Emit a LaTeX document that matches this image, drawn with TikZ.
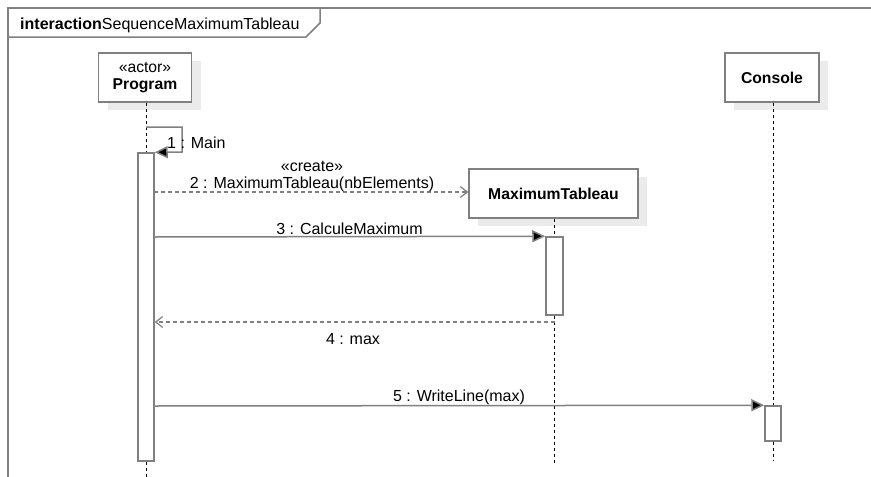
\documentclass[tikz,border=0pt]{standalone}
\usepackage{fontspec}
\setmainfont{Liberation Sans}
\usetikzlibrary{arrows.meta,shadows}
\definecolor{linegray}{HTML}{808080}
\definecolor{shadowgray}{HTML}{EBEBEB}
\begin{document}
\begin{tikzpicture}[x=1pt,y=-1pt,
  font=\fontsize{16}{17}\selectfont,
  obj/.style={draw=linegray, line width=1.5pt, fill=white, minimum height=49pt, inner sep=0pt, align=center,
    font=\fontsize{15.7}{17}\selectfont,
    general shadow={fill=shadowgray, shadow xshift=9pt, shadow yshift=-8pt}},
  act/.style={draw=linegray, line width=1.5pt, fill=white, inner sep=0pt, minimum width=16pt},
  life/.style={draw=black, line width=1pt, dash pattern=on 3pt off 3pt},
  msg/.style={draw=linegray, line width=1.5pt, -{Triangle[length=13pt,width=12pt,fill=black]}},
  ret/.style={draw=linegray, line width=1.2pt, dash pattern=on 4pt off 3pt, -{Straight Barb[length=7pt,width=11pt,line width=1.2pt]}},
  lbl/.style={inner sep=0pt, text=black}
]
\useasboundingbox (0,0) rectangle (871,477);
% frame
\draw[draw=linegray, line width=1.5pt] (8,477) -- (8,8) -- (871,8);
\draw[draw=linegray, line width=1.5pt] (8,37) -- (306,37) -- (320,23) -- (320,8);
\node[lbl, anchor=west] (title) at (20,25) {\textbf{interaction}SequenceMaximumTableau};

% lifeline heads
\node[obj, minimum width=93pt] (prog) at (145,77.5) {«actor»\\\textbf{Program}};
\node[obj, minimum width=169pt] (mt) at (553.5,193.5) {\textbf{MaximumTableau}};
\node[obj, minimum width=94pt] (cons) at (772,77.5) {\textbf{Console}};

% activations
\node[act, minimum height=308pt] (pact) at (146,307) {};
\node[act, minimum width=17pt, minimum height=78pt] (mact) at (554.5,276) {};
\node[act, minimum height=35pt] (cact) at (773,423.5) {};

% lifelines
\coordinate (pend) at (146,477);
\coordinate (mend) at (554.5,463);
\coordinate (cend) at (773,460);
\draw[life] (prog.south -| pact.north) -- (pact.north);
\draw[life] (pact.south) -- (pend);
\draw[life] (mt.south -| mact.north) -- (mact.north);
\draw[life] (mact.south) -- (mend);
\draw[life] (cons.south -| cact.north) -- (cact.north);
\draw[life] (cact.south) -- (cend);

% 1 : Main (self message)
\coordinate (s1) at (146,127);
\draw[msg] (s1) -- (182,127) -- (182,152) -- (pact.north east);
\node[lbl, anchor=west] (l1) at (167,143) {1 : Main};

% 2 : create
\coordinate (m2s) at (154,192);
\draw[ret] (m2s) -- (mt.west |- m2s);
\node[lbl] (l2a) at (312,166) {«create»};
\node[lbl] (l2b) at (312,184) {2 : MaximumTableau(nbElements)};

% 3 : CalculeMaximum
\coordinate (m3s) at (154,237);
\draw[msg] (m3s) -- (mact.north west);
\node[lbl] (l3) at (349.5,228.5) {3 : CalculeMaximum};

% 4 : max (return)
\coordinate (m4s) at (554.5,322);
\draw[ret] (m4s) -- (pact.east |- m4s);
\node[lbl] (l4) at (353,339) {4 : max};

% 5 : WriteLine
\coordinate (m5s) at (154,406);
\draw[msg] (m5s) -- (cact.north west);
\node[lbl] (l5) at (459,397) {5 : WriteLine(max)};
\end{tikzpicture}
\end{document}
